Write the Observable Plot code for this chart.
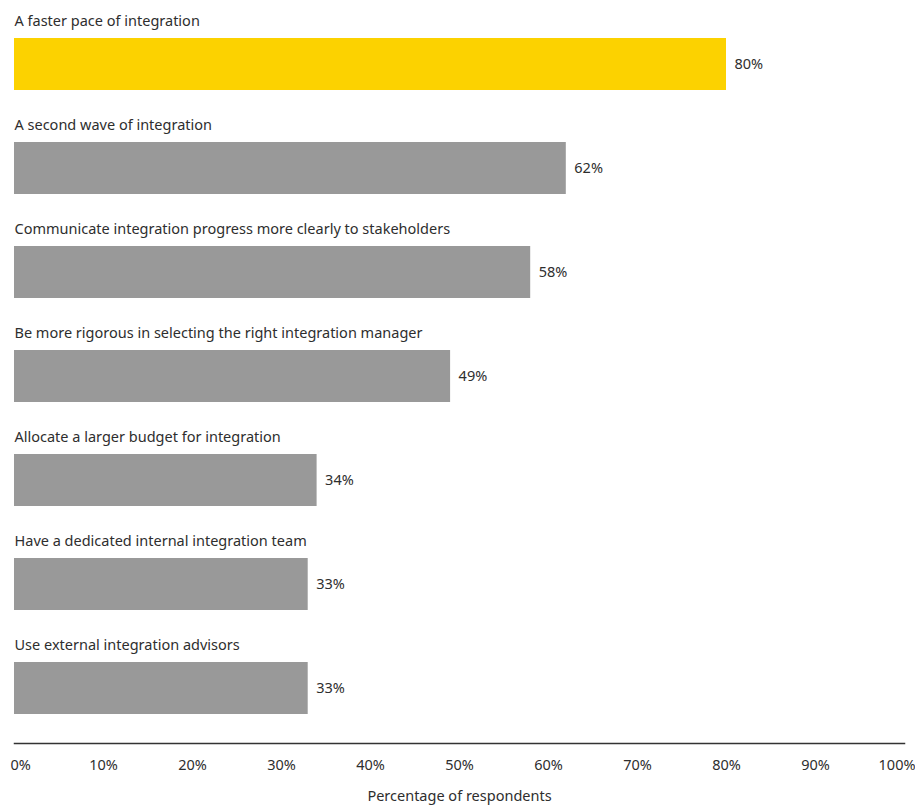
<!DOCTYPE html>
<html>
<head>
<meta charset="utf-8">
<script src="https://cdn.jsdelivr.net/npm/d3@7"></script>
<script src="https://cdn.jsdelivr.net/npm/@observablehq/plot@0.6"></script>
<style>
  html, body { margin: 0; padding: 0; background: #fff; }
  #chart svg { display: block; }
</style>
</head>
<body>
<div id="chart"></div>
<script>
const categories = [
  "A faster pace of integration",
  "A second wave of integration",
  "Communicate integration progress more clearly to stakeholders",
  "Be more rigorous in selecting the right integration manager",
  "Allocate a larger budget for integration",
  "Have a dedicated internal integration team",
  "Use external integration advisors"
];
const values = [80, 62, 58, 49, 34, 33, 33];
const highlight = [true, false, false, false, false, false, false];
const xTicks = [0, 10, 20, 30, 40, 50, 60, 70, 80, 90, 100];
const xLabel = "Percentage of respondents";

const data = categories.map((c, i) => ({category: c, value: values[i], hi: highlight[i]}));

const font = "'Noto Sans', 'DejaVu Sans', sans-serif";
const textColor = "#2e2e2e";
const fs = 14.5;
const fmt = d => d + "%";
const midTicks = xTicks.slice(1, -1);

const chart = Plot.plot({
  width: 915,
  height: 805,
  marginTop: 9,
  marginBottom: 62,
  marginLeft: 14,
  marginRight: 11,
  style: {fontFamily: font, fontSize: fs + "px", color: textColor, background: "#fff"},
  x: {domain: [0, 100], label: null},
  y: {domain: categories, paddingInner: 0.5, paddingOuter: 0.25, axis: null},
  marks: [
    Plot.barX(data, {x: "value", y: "category", fill: d => d.hi ? "#fcd200" : "#999999"}),
    Plot.text(data, {x: 0, y: "category", text: "category", textAnchor: "start", dy: -43, fill: textColor, fontSize: fs}),
    Plot.text(data, {x: "value", y: "category", text: d => fmt(d.value), textAnchor: "start", dx: 8, fill: textColor, fontSize: fs}),
    Plot.frame({anchor: "bottom", stroke: "#333", strokeWidth: 1.5}),
    Plot.axisX(midTicks, {tickFormat: fmt, tickSize: 0, tickPadding: 16, fontSize: fs, fill: textColor, label: null}),
    Plot.axisX([xTicks[0]], {tickFormat: fmt, tickSize: 0, tickPadding: 16, fontSize: fs, fill: textColor, label: null, textAnchor: "start", dx: -4}),
    Plot.axisX([xTicks[xTicks.length - 1]], {tickFormat: fmt, tickSize: 0, tickPadding: 16, fontSize: fs, fill: textColor, label: null, textAnchor: "end", dx: 11}),
    Plot.text([xLabel], {frameAnchor: "bottom", x: 50, dy: 57, fill: textColor, fontSize: fs})
  ]
});
document.getElementById("chart").appendChild(chart);
</script>
</body>
</html>
